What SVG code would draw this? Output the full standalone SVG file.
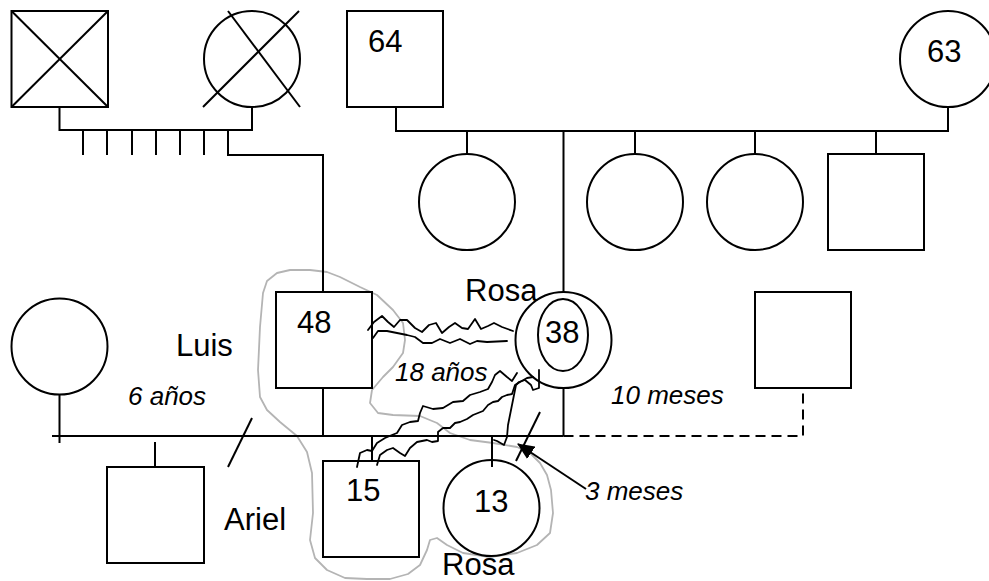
<svg xmlns="http://www.w3.org/2000/svg" width="989" height="581" viewBox="0 0 989 581">
<style>
.n{fill:none;stroke:#000;stroke-width:2}
.c{fill:none;stroke:#000;stroke-width:2;stroke-linecap:butt}
.d{fill:none;stroke:#000;stroke-width:2;stroke-dasharray:10 6}
.w{fill:none;stroke:#000;stroke-width:1.8;stroke-linejoin:round;stroke-linecap:round}
.g{fill:none;stroke:#b4b4b4;stroke-width:1.8;stroke-linejoin:round}
.t{font-family:"Liberation Sans",Arial,sans-serif;font-size:31px;fill:#000}
.i{font-family:"Liberation Sans",Arial,sans-serif;font-size:26px;font-style:italic;fill:#000}
</style>
<defs>
<marker id="ah" viewBox="0 0 16 14" refX="15" refY="7" markerWidth="17" markerHeight="15" markerUnits="userSpaceOnUse" orient="auto">
<path d="M0,0 L16,7 L0,14 z" fill="#000"/>
</marker>
</defs>
<rect width="989" height="581" fill="#fff"/>

<g id="household">
<path class="g" d="M263,293 L267,281 L277,273 L290,270 L310,270 L327,272 L340,277 L360,287 L377,295 L393,310 L403,323 L405,340 L403,353 L393,367 L383,377 L372,390 L370,403 L378,413 L393,415 L420,416 L437,423 L450,433 L470,440 L493,443 L517,447 L530,453 L540,463 L547,475 L551,490 L553,513 L550,533 L537,545 L517,553 L490,557 L463,553 L447,545 L437,538 L430,540 L427,550 L420,565 L408,574 L390,579 L367,579 L345,578 L327,570 L315,558 L310,540 L313,513 L312,473 L307,452 L297,436 L280,422 L267,410 L260,397 L258,370 L260,327 Z"/>
</g>

<g id="connectors">
<polyline class="c" points="59.5,107 59.5,130 252,130 252,107"/>
<line class="c" x1="83" y1="130" x2="83" y2="155"/>
<line class="c" x1="107" y1="130" x2="107" y2="155"/>
<line class="c" x1="132" y1="130" x2="132" y2="155"/>
<line class="c" x1="156" y1="130" x2="156" y2="155"/>
<line class="c" x1="180" y1="130" x2="180" y2="155"/>
<line class="c" x1="204" y1="130" x2="204" y2="155"/>
<polyline class="c" points="228,130 228,155 323,155 323,292"/>
<polyline class="c" points="396,107 396,131 948,131 948,107"/>
<line class="c" x1="467" y1="131" x2="467" y2="154"/>
<line class="c" x1="563.5" y1="131" x2="563.5" y2="292"/>
<line class="c" x1="635" y1="131" x2="635" y2="154"/>
<line class="c" x1="755" y1="131" x2="755" y2="154"/>
<line class="c" x1="876" y1="131" x2="876" y2="154"/>
<line class="c" x1="59.5" y1="395" x2="59.5" y2="443"/>
<line class="c" x1="52" y1="436" x2="563.5" y2="436"/>
<polyline class="d" points="563.5,436 803,436 803,388"/>
<line class="c" x1="155" y1="442" x2="155" y2="467"/>
<line class="c" x1="252" y1="418" x2="228" y2="467"/>
<line class="c" x1="323" y1="388" x2="323" y2="436"/>
<line class="c" x1="563.5" y1="388" x2="563.5" y2="436"/>
<line class="c" x1="372" y1="436" x2="372" y2="461"/>
<line class="c" x1="492" y1="437" x2="492" y2="467"/>
<line class="c" x1="540" y1="412" x2="516" y2="461"/>
<polyline class="w" points="368,330 374,322 382,316 388,322 394,327 400,320 407,320 415,328 422,332 429,325 436,323 442,333 449,327 455,323 462,328 468,329 475,319 481,329 488,326 494,323 502,327 513,331"/>
<polyline class="w" points="373,338 378,331 387,331 397,333 407,335 415,337 423,343 432,343 440,339 450,343 460,339 470,344 477,341 487,342 507,341"/>
<polyline class="w" points="517,373 512,381 507,377 500,371 495,375 492,382 488,389 480,392 470,395 463,401 453,402 443,408 433,409 423,406 420,413 418,421 410,422 402,425 397,433 392,435 385,438 377,443 372,451 367,450 360,453 357,467"/>
<polyline class="w" points="533,377 527,378 520,382 515,385 512,394 507,395 502,397 498,401 493,402 488,405 483,411 478,413 473,415 467,419 460,422 455,423 450,428 443,428 438,432 438,441 432,442 427,440 417,442 410,448 405,456 400,453 393,448 387,450 380,455 377,465"/>
<polyline class="w" points="539,370 539,388 533,390 531,385 525,380 519,382 516,385 514,395 512,405 510,415 508,425 507,437 504,445 497,441 494,440"/>
<line class="c" x1="586" y1="489" x2="518" y2="444" marker-end="url(#ah)"/>
</g>

<g id="grandfather-paternal">
<rect class="n" x="11.5" y="11" width="96.5" height="96"/>
<line class="n" x1="11.5" y1="11" x2="108" y2="107"/>
<line class="n" x1="108" y1="11" x2="11.5" y2="107"/>
</g>
<g id="grandmother-paternal">
<circle class="n" cx="252" cy="59" r="48"/>
<line class="n" x1="228" y1="11" x2="300" y2="107"/>
<line class="n" x1="299" y1="11" x2="203" y2="107"/>
</g>
<g id="grandfather-maternal">
<rect class="n" x="347" y="11" width="96" height="96"/>
<text class="t" x="368" y="52">64</text>
</g>
<g id="grandmother-maternal">
<circle class="n" cx="948" cy="59" r="48"/>
<text class="t" x="927" y="62">63</text>
</g>
<g id="aunt1"><circle class="n" cx="467" cy="202" r="48"/></g>
<g id="aunt2"><circle class="n" cx="635" cy="202" r="48"/></g>
<g id="aunt3"><circle class="n" cx="755" cy="202" r="48"/></g>
<g id="uncle"><rect class="n" x="828" y="154" width="96" height="96"/></g>

<g id="ex-wife"><circle class="n" cx="59.5" cy="346.5" r="48"/></g>
<g id="luis">
<rect class="n" x="276" y="292" width="96" height="96"/>
<text class="t" x="297" y="333">48</text>
<text class="t" x="176" y="356">Luis</text>
</g>
<g id="rosa-mother">
<circle class="n" cx="563.5" cy="340" r="48"/>
<ellipse class="n" cx="563" cy="335" rx="25" ry="36"/>
<text class="t" x="545" y="343">38</text>
<text class="t" x="465" y="301">Rosa</text>
</g>
<g id="new-partner"><rect class="n" x="755" y="292" width="96" height="96"/></g>
<g id="ariel">
<rect class="n" x="107" y="467" width="97" height="96"/>
<text class="t" x="224" y="530">Ariel</text>
</g>
<g id="son15">
<rect class="n" x="323" y="461" width="96" height="96"/>
<text class="t" x="346" y="501">15</text>
</g>
<g id="rosa-daughter">
<circle class="n" cx="491.5" cy="508" r="48"/>
<text class="t" x="474" y="512">13</text>
<text class="t" x="442" y="575">Rosa</text>
</g>

<g id="labels">
<text class="i" x="128" y="405">6 años</text>
<text class="i" x="395" y="381">18 años</text>
<text class="i" x="611" y="404">10 meses</text>
<text class="i" x="585" y="500">3 meses</text>
</g>
</svg>
